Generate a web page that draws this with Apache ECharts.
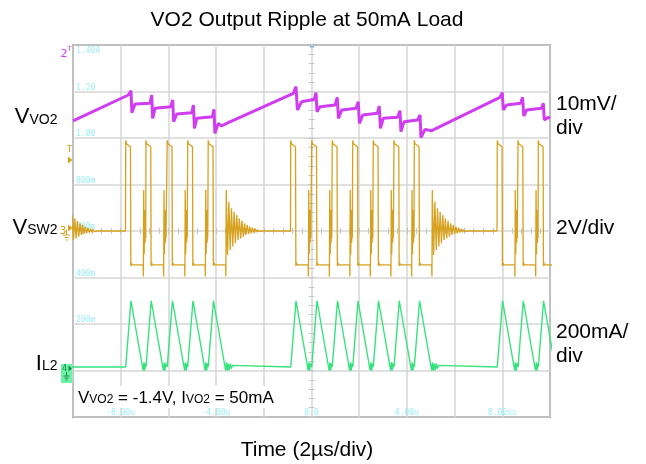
<!DOCTYPE html>
<html>
<head>
<meta charset="utf-8">
<script src="https://cdn.jsdelivr.net/npm/echarts@6/dist/echarts.min.js"></script>
<style>
html, body { margin: 0; padding: 0; background: #fff; }
#chart { width: 646px; height: 464px; }
</style>
</head>
<body>
<div id="chart"></div>
<script>
// time in us, 2us/div
var timeTickValues = [-8, -4, 0, 4, 8];
var timeTickLabels = ['-8.00u', '-4.00u', '0.0', '4.00u', '8.00us'];
// ch4 scale (A) printed on the left inside the screen
var currentTickValues = [1.2, 1.0, 0.8, 0.6, 0.4, 0.2];
var currentTickLabels = ['1.20', '1.00', '800m', '600m', '400m', '200m'];

// start of every high-side pulse (us)
var pulseStarts = [-7.79, -6.94, -6.05, -5.19, -4.33, -0.87, 0.01, 0.87, 1.73, 2.59, 3.46, 4.31, 7.79, 8.66, 9.51];

// V_SW2 (V): one pulse, relative to its start
var swPulse = [[0.0, 3.9], [0.03, 3.75], [0.2, 3.62], [0.215, -1.5], [0.235, -1.36], [0.27, -1.46], [0.73, -1.46]];
// short ring before the next pulse of the same burst, relative to end of low
var swSpike = [[0.01, -1.96], [0.025, 1.76], [0.045, -1.0], [0.065, 0.9], [0.085, -0.5], [0.1, 0.4], [0.11, -0.3]];
// long ring after the last pulse of a burst, relative to end of low
var swRing = [[0.01, -1.96], [0.025, 1.76], [0.08, -1.03], [0.135, 1.26], [0.19, -0.82], [0.245, 0.98],
  [0.3, -0.67], [0.355, 0.83], [0.41, -0.53], [0.465, 0.69], [0.52, -0.39], [0.575, 0.55], [0.63, -0.32],
  [0.685, 0.44], [0.74, -0.24], [0.795, 0.33], [0.85, -0.17], [0.905, 0.26], [0.96, -0.13], [1.015, 0.19],
  [1.07, -0.1], [1.125, 0.14], [1.18, -0.07], [1.235, 0.1], [1.29, -0.05], [1.345, 0.06], [1.4, -0.03],
  [1.455, 0.03], [1.52, 0.0]];
var swLeadRingAt = -10.5;   // ring left over from the burst before the screen
var swLowEnd = 0.73;

// I_L2 (A): one triangle, relative to pulse start
var ilPulse = [[0, 0.015], [0.22, 0.30], [0.73, 0.0], [0.765, 0.035], [0.795, 0.0], [0.825, 0.03]];
var ilTail = [[0.87, 0.0], [0.91, 0.03], [0.96, 0.008], [1.02, 0.022], [1.08, 0.015]];
var ilIdle = 0.015;

// V_VO2 ripple (mV), [t, mV]
var vo2Points = [
  [-10.0, -1.34], [-7.68, 4.25], [-7.57, 5.18], [-7.53, 0.45], [-7.40, 2.31], [-6.77, 2.46],
  [-6.70, 4.25], [-6.66, -0.77], [-6.56, 1.38], [-5.90, 1.74],
  [-5.82, 3.17], [-5.78, -1.49], [-5.65, 0.16], [-5.02, 0.45],
  [-4.95, 2.10], [-4.91, -2.92], [-4.81, -0.77], [-4.15, -0.41],
  [-4.09, 1.17], [-4.05, -4.00], [-3.91, -1.85], [-3.77, -2.42], [-3.56, -1.85],
  [-0.76, 4.61], [-0.65, 6.04], [-0.59, 1.02], [-0.41, 2.81], [0.12, 3.32],
  [0.19, 4.75], [0.23, 0.66], [0.36, 1.74], [0.99, 2.10],
  [1.08, 3.75], [1.13, -0.77], [1.27, 1.02], [1.87, 1.38],
  [1.96, 2.81], [2.01, -1.85], [2.15, -0.05], [2.76, 0.30],
  [2.84, 1.88], [2.89, -2.92], [3.01, -0.77], [3.61, -0.56],
  [3.71, 0.88], [3.75, -3.64], [3.88, -1.49], [4.45, -1.13],
  [4.55, -0.05], [4.59, -4.93], [4.76, -3.14], [5.04, -3.42],
  [7.90, 3.75], [8.00, 4.75], [8.04, 1.02], [8.18, 2.10], [8.77, 2.46],
  [8.85, 3.75], [8.90, -0.27], [9.02, 1.02], [9.64, 1.38],
  [9.72, 2.46], [9.76, -1.13], [9.93, -0.56], [10.0, -0.77]
];

function shifted(shape, t0) {
  return shape.map(function (p) { return [t0 + p[0], p[1]]; });
}

var swData = shifted(swRing, swLeadRingAt);
var ilData = [[-10.2, ilIdle]];
pulseStarts.forEach(function (t, i) {
  var prev = pulseStarts[i - 1], next = pulseStarts[i + 1];
  var sameBurstNext = next !== undefined && next - t < 1;
  if (prev === undefined || t - prev >= 1) swData.push([t - 0.01, 0]);
  swData = swData.concat(shifted(swPulse, t));
  swData = swData.concat(shifted(sameBurstNext ? swSpike : swRing, t + swLowEnd));
  ilData = ilData.concat(shifted(ilPulse, t));
  if (!sameBurstNext) ilData = ilData.concat(shifted(ilTail, t));
});

var FONT = '"Liberation Sans", Arial, sans-serif';
var CYAN = '#9aeef4';
var ORANGE = '#d6a11e';
var MAGENTA = '#d03cf0';
var GREEN = '#36e27e';

function pick(values, labels) {
  return function (v) {
    for (var i = 0; i < values.length; i++) {
      if (Math.abs(values[i] - v) < 1e-6) return labels[i];
    }
    return '';
  };
}

function tickAxis(extra) {
  var a = {
    type: 'value', axisLine: { show: false },
    axisTick: { show: true, length: 3, lineStyle: { color: '#c4c4c4' } },
    axisLabel: { show: false }, splitLine: { show: false }
  };
  for (var k in extra) a[k] = extra[k];
  return a;
}

function sub(x, y, main, small) {
  return {
    type: 'text', x: x, y: y, z: 20,
    style: {
      text: '{v|' + main + '}{s|' + small + '}', textAlign: 'right', textVerticalAlign: 'middle',
      rich: {
        v: { fontSize: 22, fontFamily: FONT, fill: '#000' },
        s: { fontSize: 14, fontFamily: FONT, fill: '#000', padding: [6, 0, 0, 0] }
      }
    }
  };
}

var chart = echarts.init(document.getElementById('chart'));
chart.setOption({
  animation: false,
  backgroundColor: '#fff',
  grid: {
    left: 73, right: 96, top: 45, bottom: 47,
    show: true, borderColor: '#555', borderWidth: 1.5, backgroundColor: 'transparent'
  },
  xAxis: [
    {
      type: 'value', min: -10, max: 10, interval: 2,
      axisLine: { show: false }, axisTick: { show: false },
      splitLine: { show: true, lineStyle: { color: '#d6d6d6', width: 1.5 } },
      axisLabel: {
        inside: true, margin: 0, color: CYAN, fontFamily: '"DejaVu Sans Mono", monospace', fontSize: 8,
        formatter: pick(timeTickValues, timeTickLabels)
      }
    },
    tickAxis({ min: -10, max: 10, interval: 0.4, position: 'bottom', offset: -186 }),
    tickAxis({ min: -10, max: 10, interval: 0.4, position: 'bottom', offset: -186,
      axisTick: { show: true, inside: true, length: 3, lineStyle: { color: '#c4c4c4' } } })
  ],
  yAxis: [
    {
      type: 'value', min: -0.2, max: 1.4, interval: 0.2,
      axisLine: { show: false }, axisTick: { show: false },
      splitLine: { show: true, lineStyle: { color: '#d6d6d6', width: 1.5 } },
      axisLabel: {
        inside: true, margin: 3, verticalAlign: 'bottom', color: CYAN,
        fontFamily: '"DejaVu Sans Mono", monospace', fontSize: 8,
        formatter: pick(currentTickValues, currentTickLabels)
      }
    },
    { type: 'value', min: -8, max: 8, show: false },
    { type: 'value', min: -65, max: 15, show: false },
    tickAxis({ min: 0, max: 8, interval: 0.2, position: 'left', offset: -238.5 }),
    tickAxis({ min: 0, max: 8, interval: 0.2, position: 'left', offset: -238.5,
      axisTick: { show: true, inside: true, length: 3, lineStyle: { color: '#c4c4c4' } } })
  ],
  series: [
    {
      name: 'V_VO2', type: 'line', yAxisIndex: 2, data: vo2Points, showSymbol: false,
      lineStyle: { color: MAGENTA, width: 3 }, z: 3
    },
    {
      name: 'V_SW2', type: 'line', yAxisIndex: 1, data: swData, showSymbol: false,
      lineStyle: { color: ORANGE, width: 1.3 }, z: 4
    },
    {
      name: 'I_L2', type: 'line', yAxisIndex: 0, data: ilData, showSymbol: false,
      lineStyle: { color: GREEN, width: 1.4 }, z: 5
    }
  ],
  graphic: [
    { type: 'text', x: 307, y: 20, style: { text: 'VO2 Output Ripple at 50mA Load', font: '21px ' + FONT, fill: '#000', textAlign: 'center', textVerticalAlign: 'middle' } },
    { type: 'text', x: 307, y: 450, style: { text: 'Time (2\u00b5s/div)', font: '21px ' + FONT, fill: '#000', textAlign: 'center', textVerticalAlign: 'middle' } },
    { type: 'text', x: 556, y: 92, style: { text: '10mV/\ndiv', font: '21px ' + FONT, lineHeight: 24, fill: '#000', textAlign: 'left', textVerticalAlign: 'top' } },
    { type: 'text', x: 556, y: 228, style: { text: '2V/div', font: '21px ' + FONT, fill: '#000', textAlign: 'left', textVerticalAlign: 'middle' } },
    { type: 'text', x: 556, y: 320, style: { text: '200mA/\ndiv', font: '21px ' + FONT, lineHeight: 24, fill: '#000', textAlign: 'left', textVerticalAlign: 'top' } },
    sub(57.5, 117, 'V', 'VO2'),
    sub(57.5, 227.5, 'V', 'SW2'),
    sub(57.5, 363.5, 'I', 'L2'),
    // white box behind the test conditions
    { type: 'rect', z: 10, shape: { x: 74, y: 386, width: 207, height: 22 }, style: { fill: '#fff' } },
    { type: 'text', z: 11, x: 78, y: 398, style: { text: '{a|V}{b|VO2}{a| = -1.4V, I}{b|VO2}{a| = 50mA}', textAlign: 'left', textVerticalAlign: 'middle',
      rich: { a: { fontSize: 17, fontFamily: FONT, fill: '#000' }, b: { fontSize: 12, fontFamily: FONT, fill: '#000', padding: [4, 0, 0, 0] } } } },
    // scope markers
    { type: 'text', x: 76, y: 47, style: { text: '1.40A', font: '8px "DejaVu Sans Mono", monospace', fill: CYAN, textAlign: 'left', textVerticalAlign: 'top' } },
    { type: 'polygon', shape: { points: [[308, 44], [316, 44], [312, 49]] }, style: { fill: '#2a7de1' } },
    { type: 'text', x: 64, y: 54, style: { text: '2', font: '11px "DejaVu Sans"', fill: MAGENTA, textAlign: 'center', textVerticalAlign: 'middle' } },
    { type: 'text', x: 69.5, y: 49, style: { text: 'T', font: '7px "DejaVu Sans"', fill: MAGENTA, textAlign: 'center', textVerticalAlign: 'middle' } },
    { type: 'text', x: 69.5, y: 150, style: { text: 'T', font: '9px "DejaVu Sans"', fill: ORANGE, textAlign: 'center', textVerticalAlign: 'middle' } },
    { type: 'polygon', shape: { points: [[68, 156.5], [72.5, 160], [68, 163.5]] }, style: { fill: ORANGE } },
    { type: 'text', x: 63, y: 231, style: { text: '3', font: '11px "DejaVu Sans"', fill: ORANGE, textAlign: 'center', textVerticalAlign: 'middle' } },
    { type: 'polygon', shape: { points: [[68, 224.5], [72.5, 228], [68, 231.5]] }, style: { fill: ORANGE } },
    { type: 'polyline', shape: { points: [[66.5, 230], [66.5, 235]] }, style: { stroke: ORANGE, lineWidth: 1 } },
    { type: 'polyline', shape: { points: [[63, 235], [70, 235]] }, style: { stroke: ORANGE, lineWidth: 1 } },
    { type: 'polyline', shape: { points: [[64.5, 237.5], [68.5, 237.5]] }, style: { stroke: ORANGE, lineWidth: 1 } },
    { type: 'polyline', shape: { points: [[65.5, 240], [67.5, 240]] }, style: { stroke: ORANGE, lineWidth: 1 } },
    { type: 'rect', shape: { x: 61, y: 364, width: 12, height: 19 }, style: { fill: '#6df2a6' } },
    { type: 'text', x: 64.5, y: 369, style: { text: '4', font: '8px "DejaVu Sans"', fill: '#1a8a4a', textAlign: 'center', textVerticalAlign: 'middle' } },
    { type: 'polygon', shape: { points: [[68.5, 365.5], [72, 368.5], [68.5, 371.5]] }, style: { fill: '#1a8a4a' } },
    { type: 'polyline', shape: { points: [[66.5, 372], [66.5, 376]] }, style: { stroke: '#1a8a4a', lineWidth: 1 } },
    { type: 'polyline', shape: { points: [[63.5, 376], [69.5, 376]] }, style: { stroke: '#1a8a4a', lineWidth: 1 } },
    { type: 'polyline', shape: { points: [[64.5, 378], [68.5, 378]] }, style: { stroke: '#1a8a4a', lineWidth: 1 } },
    { type: 'polyline', shape: { points: [[65.5, 380], [67.5, 380]] }, style: { stroke: '#1a8a4a', lineWidth: 1 } }
  ]
});
</script>
</body>
</html>
